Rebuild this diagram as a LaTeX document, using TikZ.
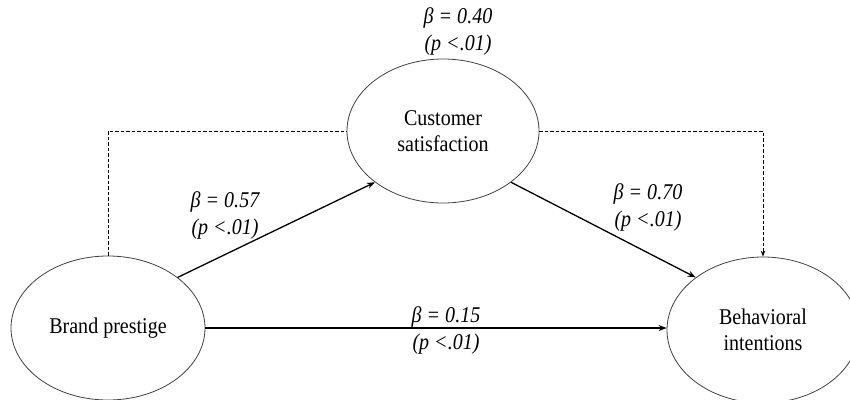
\documentclass[tikz,border=0pt]{standalone}
\usepackage{fontspec}
\setmainfont{Liberation Serif}[FakeStretch=0.89]
\usetikzlibrary{shapes.geometric,arrows.meta}
\begin{document}
\begin{tikzpicture}[x=1pt,y=-1pt,
  var/.style={ellipse,draw=black!75,line width=0.8pt,inner sep=0pt,align=center,
    font=\fontsize{22.5}{26}\selectfont},
  path/.style={line width=1.3pt,-{Stealth[length=8pt,width=6pt]}},
  dpath/.style={line width=0.9pt,dash pattern=on 3.5pt off 2pt},
  lab/.style={align=center,font=\fontsize{22.5}{27}\selectfont\itshape}]
\useasboundingbox (0,0) rectangle (850,399);
\node[var,minimum width=194pt,minimum height=144pt] (BP) at (108,328) {Brand prestige};
\node[var,minimum width=192pt,minimum height=144pt] (CS) at (443,131) {Customer\\satisfaction};
\node[var,minimum width=192pt,minimum height=146pt] (BI) at (763,330) {Behavioral\\intentions};
\coordinate (L) at (BP.north |- CS.west);
\coordinate (R) at (BI.north |- CS.east);
\draw[dpath] (BP.north) -- (L) -- (CS.west);
\draw[dpath,-{Stealth[length=6pt,width=4.5pt]}] (CS.east) -- (R) -- (BI.north);
\draw[path] (BP.36) -- (CS.217);
\draw[path] (CS.323) -- (BI.142);
\draw[path] (BP.east) -- (BP.east -| BI.west);
\node[lab] (l40) at (458,31) {β = 0.40\\(p <.01)};
\node[lab] (l57) at (225,215) {β = 0.57\\(p <.01)};
\node[lab] (l70) at (648,207) {β = 0.70\\(p <.01)};
\node[lab] (l15) at (446,330) {β = 0.15\\(p <.01)};
\end{tikzpicture}
\end{document}
